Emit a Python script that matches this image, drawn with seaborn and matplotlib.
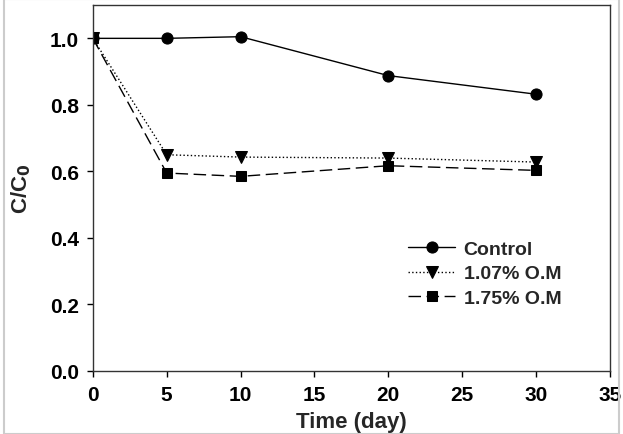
import matplotlib
matplotlib.use("Agg")
import matplotlib.pyplot as plt
import seaborn as sns
import pandas as pd

time_day = [0, 5, 10, 20, 30]
control = [1.0, 1.0, 1.005, 0.888, 0.832]
om_107 = [1.0, 0.650, 0.643, 0.640, 0.628]
om_175 = [1.0, 0.595, 0.585, 0.617, 0.603]

series = [
    ("Control", control, "o", "-", 8),
    ("1.07% O.M", om_107, "v", ":", 8),
    ("1.75% O.M", om_175, "s", (0, (9, 4)), 7.5),
]

sns.set_theme(style="ticks")
plt.rcParams['font.family'] = ['Liberation Sans', 'DejaVu Sans']
plt.rcParams['font.weight'] = 'bold'

fig = plt.figure(figsize=(6.23, 4.35), dpi=100)
ax = fig.add_axes([0.149, 0.145, 0.830, 0.841])

for name, vals, mk, ls, ms in series:
    df = pd.DataFrame({"t": time_day, "c": vals})
    sns.lineplot(data=df, x="t", y="c", ax=ax, color="black", marker=mk,
                 linestyle=ls, linewidth=1.0, markersize=ms,
                 markeredgecolor="black", label=name)

ax.set_xlim(0, 35)
ax.set_ylim(0, 1.1)
ax.set_xticks(range(0, 36, 5))
ax.set_yticks([0.0, 0.2, 0.4, 0.6, 0.8, 1.0])
ax.set_yticklabels(["0.0", "0.2", "0.4", "0.6", "0.8", "1.0"])
ax.tick_params(direction="out", length=4, width=1, labelsize=15, colors="black", pad=6)
for lab in ax.get_xticklabels() + ax.get_yticklabels():
    lab.set_fontweight("bold")
for sp in ax.spines.values():
    sp.set_linewidth(1.0)
    sp.set_color("#333333")

ax.set_xlabel("Time (day)", fontsize=16, fontweight="bold", labelpad=5)
ax.set_ylabel("C/C$_\\mathbf{0}$", fontsize=16, fontweight="bold", labelpad=12)

leg = ax.legend(loc="upper left", bbox_to_anchor=(0.595, 0.378), frameon=False,
                fontsize=14, handlelength=2.4, handletextpad=0.45,
                labelspacing=0.35, borderaxespad=0)
for t in leg.get_texts():
    t.set_fontweight("bold")

# light border around the image
fig.patches.append(plt.Rectangle((0.006, 0.0), 0.988, 1.0, transform=fig.transFigure,
                                 fill=False, edgecolor="#cccccc", linewidth=1.5))

fig.savefig("out.png", dpi=100)
